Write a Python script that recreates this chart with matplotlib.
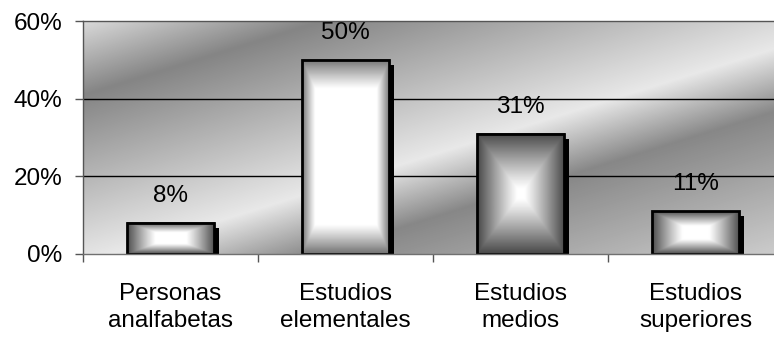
import numpy as np
import matplotlib
matplotlib.use("Agg")
import matplotlib.pyplot as plt
from matplotlib.patches import Rectangle
from matplotlib.transforms import ScaledTranslation

plt.rcParams['font.family'] = ['Liberation Sans', 'DejaVu Sans']

# Nivel de estudios (%)
categorias = ["Personas\nanalfabetas", "Estudios\nelementales", "Estudios\nmedios", "Estudios\nsuperiores"]
valores = [8, 50, 31, 11]
yticks = [0, 20, 40, 60]

# degradado de cada barra: zona blanca central y gris del borde
nucleo = [0.35, 0.7, 0.08, 0.3]
borde = [0.30, 0.45, 0.28, 0.30]

fig = plt.figure(figsize=(7.74, 3.4), dpi=100)
W, H = 774, 340
ax = fig.add_axes([83 / W, (H - 254) / H, 700 / W, 233 / H])

# fondo: degradado diagonal tipo cromado
nx, ny = 700, 233
xx, yy = np.meshgrid(np.arange(nx), np.arange(ny))
u = yy - 0.31 * (xx - 20)
paradas_u = [-220, -66, -3, 165, 245]
paradas_g = [0.82, 0.53, 0.91, 0.52, 0.88]
fondo = np.interp(u, paradas_u, paradas_g)
ax.imshow(fondo, extent=(-0.5, 3.5, 0, 60), origin='lower', aspect='auto',
          cmap='gray', vmin=0, vmax=1, zorder=0, interpolation='bilinear')

for y in yticks[1:-1]:
    ax.axhline(y, color='black', lw=1, zorder=1)

def relleno_barra(core, edge, n=200):
    t = np.linspace(-1, 1, n)
    dx, dy = np.meshgrid(t, t)
    d = np.maximum(np.abs(dx), np.abs(dy))
    s = np.clip((d - core) / (1 - core), 0, 1)
    return 1 - (1 - edge) * s ** 1.1

sombra = ax.transData + ScaledTranslation(5 / 100, -5 / 100, fig.dpi_scale_trans)
ancho = 0.5
fs = 17.5
for i, v in enumerate(valores):
    x0 = i - ancho / 2
    ax.add_patch(Rectangle((x0, 0), ancho, v, facecolor='black', edgecolor='none',
                           transform=sombra, zorder=2))
    ax.imshow(relleno_barra(nucleo[i], borde[i]), extent=(x0, x0 + ancho, 0, v),
              aspect='auto', cmap='gray', vmin=0, vmax=1, zorder=3,
              interpolation='bilinear')
    ax.add_patch(Rectangle((x0, 0), ancho, v, fill=False, edgecolor='black',
                           lw=2, zorder=4))
    ax.annotate(f"{v}%", (i, v), xytext=(0, 19.5), textcoords='offset points',
                ha='center', va='center', fontsize=fs, zorder=5)

ax.set_xlim(-0.5, 3.5)
ax.set_ylim(0, 60)

ax.set_yticks(yticks)
ax.set_yticklabels([f"{t}%" for t in yticks], fontsize=fs)
ax.tick_params(axis='y', length=6, width=1, color='#555555', pad=9)

ax.set_xticks(range(len(categorias)))
ax.set_xticklabels(categorias, fontsize=fs, linespacing=1.3)
ax.set_xticks([-0.5, 0.5, 1.5, 2.5, 3.5], minor=True)
ax.tick_params(axis='x', which='major', length=0, pad=21)
ax.tick_params(axis='x', which='minor', length=6, width=1, color='#555555')

ax.spines['right'].set_visible(False)
ax.spines['top'].set_color('#555555')
ax.spines['left'].set_color('#555555')
ax.spines['bottom'].set_color('#707070')
for s in ax.spines.values():
    s.set_linewidth(1)
    s.set_zorder(6)

fig.savefig("out.png", dpi=100)
